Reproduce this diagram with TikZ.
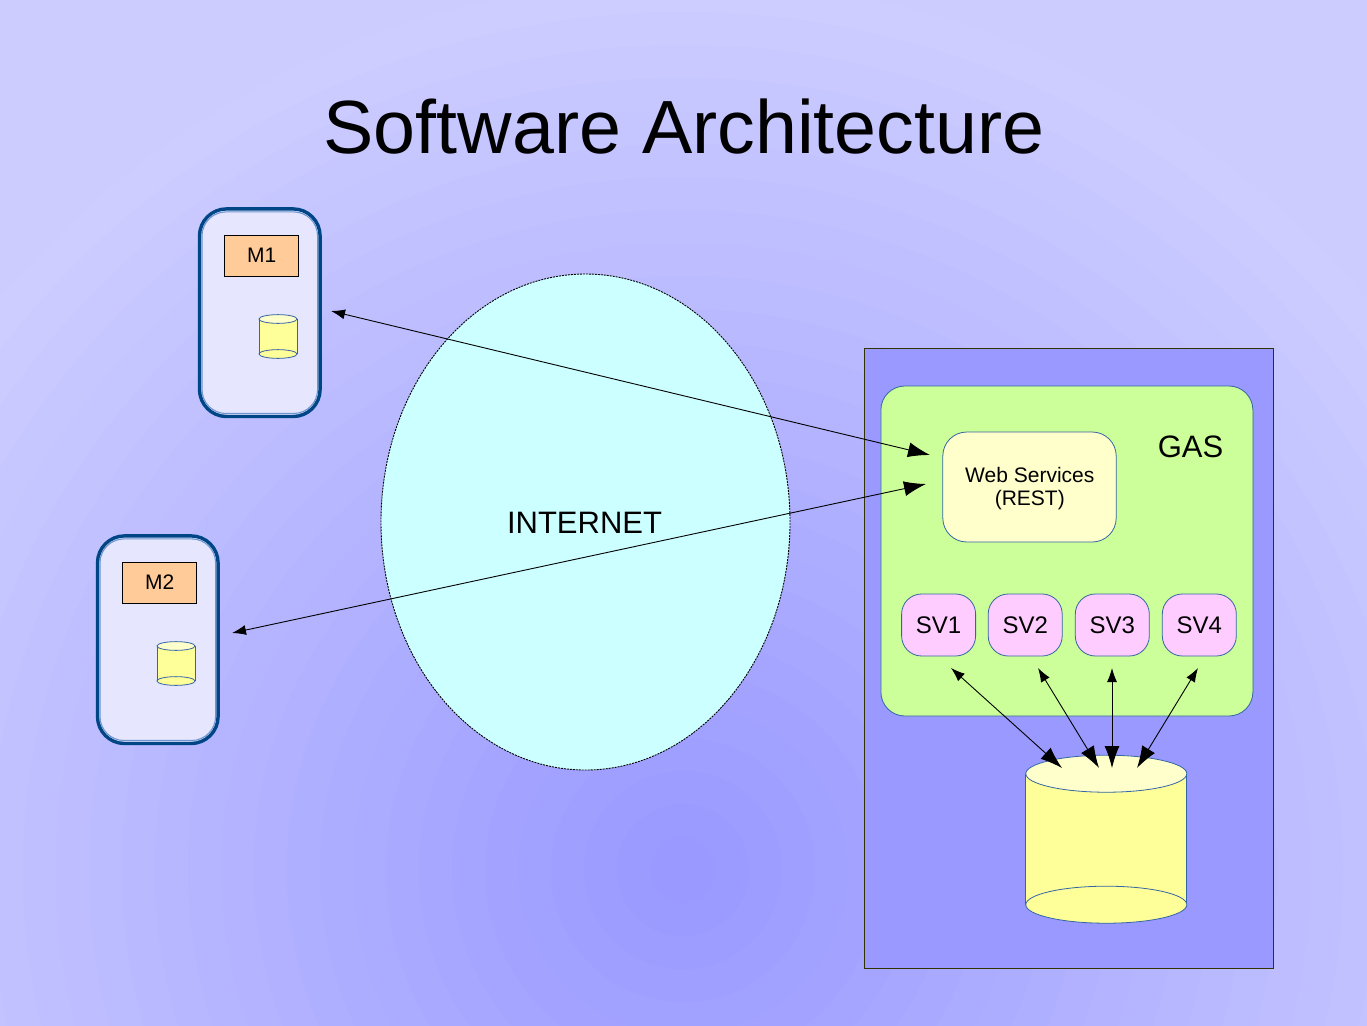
\documentclass[tikz,border=0pt]{standalone}
\usepackage{fontspec}
\setmainfont{Liberation Sans}
\usetikzlibrary{arrows.meta,shapes.geometric}
\definecolor{edgeblue}{RGB}{52,101,164}
\definecolor{devblue}{RGB}{0,69,134}
\definecolor{devring}{RGB}{110,150,205}
\definecolor{cylbody}{RGB}{255,255,153}
\definecolor{cyltop}{RGB}{255,255,204}
\definecolor{devfill}{RGB}{230,230,255}
\definecolor{morange}{RGB}{255,204,153}
\definecolor{svpink}{RGB}{255,204,255}
\tikzset{
  box/.style={draw=edgeblue,line width=0.8pt,rounded corners=#1,inner sep=0pt,outer sep=0pt,align=center,text=black},
  box/.default=24pt,
  device/.style={draw=devblue,line width=3.4pt,rounded corners=27pt,fill=devfill,minimum width=120.6pt,minimum height=207.6pt,inner sep=0pt,outer sep=0pt},
  devinner/.style={draw=devring,line width=1.1pt,rounded corners=24pt,minimum width=115.6pt,minimum height=201.6pt,inner sep=0pt,outer sep=0pt},
  mbox/.style={draw=black,line width=1pt,fill=morange,minimum width=74pt,minimum height=41pt,inner sep=0pt,outer sep=0pt,font=\fontsize{21}{24}\selectfont},
  svbox/.style={box=20pt,fill=svpink,minimum width=74pt,minimum height=62pt,font=\fontsize{24}{27}\selectfont},
  thin arrow/.style={draw=black,line width=0.9pt,{Latex[length=14pt,width=10pt]}-{Latex[length=22pt,width=15pt]}},
  cyl/.style={draw=edgeblue,line width=0.8pt},
}
\newcommand{\dbcyl}[5]{%
  \pgfmathsetmacro{\cx}{(#2+#3)/2}
  \pgfmathsetmacro{\rx}{(#3-#2)/2}
  \fill[cylbody] (#2,#4) rectangle (#3,#5);
  \draw[cyl] (#2,#4) -- (#2,#5) (#3,#4) -- (#3,#5);
  \draw[cyl,fill=cylbody] (\cx,#5) ellipse [x radius=\rx pt,y radius=\rx*0.23 pt];
  \draw[cyl,fill=cyltop] (\cx,#4) ellipse [x radius=\rx pt,y radius=\rx*0.23 pt];
  \coordinate (#1) at (\cx,#4);
}
\begin{document}
\begin{tikzpicture}[x=1pt,y=-1pt]
\useasboundingbox (0,0) rectangle (1367,1025);
\begin{scope}
\clip (0,0) rectangle (1367,1025);
\fill[fill={rgb,255:red,204;green,204;blue,255}] (0,0) rectangle (1367,1025);
\foreach \k in {27,26,...,1}{
  \pgfmathtruncatemacro{\lv}{153+(\k-1)*2}
  \definecolor{bgc}{RGB}{\lv,\lv,255}
  \fill[bgc] (683,870) circle [radius=\k*33pt];
}
\end{scope}

\node[font=\fontsize{75.4}{80}\selectfont,inner sep=0pt] (title) at (684,127) {Software Architecture};

\node[device] (dev1) at (259.8,312.7) {};
\node[devinner] (dev1i) at (259.8,312.7) {};
\node[mbox] (m1) at (261.8,255.5) {M1};
\dbcyl{c1}{259}{297}{319}{354}
\node[device] (dev2) at (157.8,639.7) {};
\node[devinner] (dev2i) at (157.8,639.7) {};
\node[mbox] (m2) at (159.8,582.5) {M2};
\dbcyl{c2}{157}{195}{646}{681}

\node[ellipse,draw=black,line width=0.9pt,dash pattern=on 2pt off 1pt,fill={rgb,255:red,204;green,255;blue,255},minimum width=409pt,minimum height=496pt,inner sep=0pt,outer sep=0pt] (net) at (585.5,522) {};
\node[font=\fontsize{31}{34}\selectfont,inner sep=0pt] (netl) at (584.5,523) {INTERNET};

\node[draw={rgb,255:red,51;green,51;blue,0},line width=1pt,fill={rgb,255:red,153;green,153;blue,255},minimum width=409pt,minimum height=619.6pt,inner sep=0pt,outer sep=0pt] (panel) at (1068.5,658.6) {};
\node[box,fill={rgb,255:red,204;green,255;blue,153},minimum width=372pt,minimum height=330pt] (gas) at (1066.9,551) {};
\node[font=\fontsize{31}{34}\selectfont,inner sep=0pt] (gasl) at (1190.5,447) {GAS};
\node[box,fill=cyltop,minimum width=173.4pt,minimum height=110pt] (ws) at (1029.5,487) {};
\node[font=\fontsize{21}{23}\selectfont,align=center,inner sep=0pt] (wsl) at (1029.8,488.6) {Web Services\\(REST)};
\node[svbox] (sv1) at (938.6,625) {SV1};
\node[svbox] (sv2) at (1025.2,625) {SV2};
\node[svbox] (sv3) at (1112.3,625) {SV3};
\node[svbox] (sv4) at (1199.3,625) {SV4};
\dbcyl{db}{1025.8}{1186.8}{773.7}{904.7}

\coordinate (a1s) at (331,311);
\coordinate (a1e) at (930,455);
\coordinate (a2s) at (232,633);
\coordinate (a2e) at (926,484);
\coordinate (s1s) at (951,668);
\coordinate (s1e) at (1062,768);
\coordinate (s2s) at (1038,668);
\coordinate (s2e) at (1099,768);
\coordinate (s3s) at (1112,668);
\coordinate (s3e) at (1112,768);
\coordinate (s4s) at (1198,668);
\coordinate (s4e) at (1137,768);
\draw[thin arrow] (a1s) -- (a1e);
\draw[thin arrow] (a2s) -- (a2e);
\draw[thin arrow] (s1s) -- (s1e);
\draw[thin arrow] (s2s) -- (s2e);
\draw[thin arrow] (s3s) -- (s3e);
\draw[thin arrow] (s4s) -- (s4e);
\end{tikzpicture}
\end{document}
